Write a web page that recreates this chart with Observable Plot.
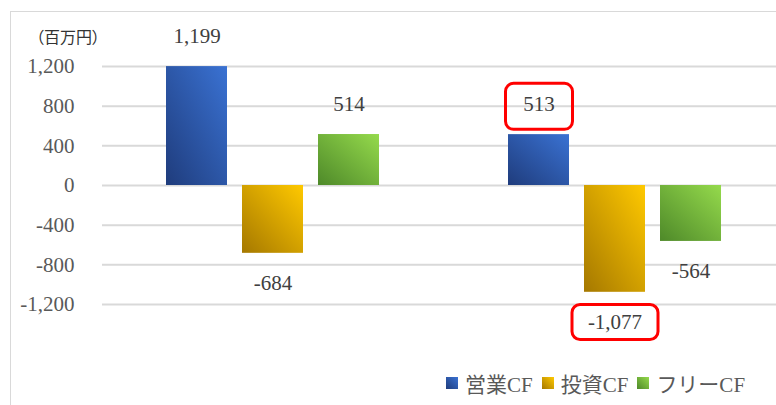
<!DOCTYPE html>
<html><head><meta charset="utf-8">
<script src="https://cdn.jsdelivr.net/npm/d3@7"></script>
<script src="https://cdn.jsdelivr.net/npm/@observablehq/plot@0.6"></script>
<style>
html,body{margin:0;padding:0;background:#fff;overflow:hidden;width:776px;height:405px}
#wrap{position:relative;width:776px;height:405px;overflow:hidden}
#frame{position:absolute;left:10px;top:11px;width:820px;height:440px;border:1.5px solid #d9d9d9;box-sizing:border-box}
#chart{position:absolute;left:0;top:0;width:800px}
#chart svg{max-width:none !important}
#unit{position:absolute;left:36px;top:24px;font-family:"Noto Sans CJK JP";font-size:16px;color:#333;font-feature-settings:"palt";white-space:nowrap}
#legend{position:absolute;left:446px;top:368px;display:flex;align-items:center;font-family:"Liberation Serif","Noto Sans CJK JP";font-size:21px;color:#595959;white-space:nowrap}
#legend .sw{width:12px;height:12px;margin-right:7px}
#legend .it{display:flex;align-items:center;margin-right:9px}
</style></head>
<body>
<div id="wrap">
  <div id="frame"></div>
  <div id="chart"></div>
  <div id="unit">（百万円）</div>
  <div id="legend"></div>
</div>
<script>
// ---- data ----
const groups = ["前期", "当期"];
const seriesNames = ["営業CF", "投資CF", "フリーCF"];
const prevValues = [1199, -684, 514];
const currValues = [513, -1077, -564];
const yTicks = [-1200, -800, -400, 0, 400, 800, 1200];
const highlighted = [513, -1077];

// ---- styles ----
const gradIds = ["g-op", "g-inv", "g-free"];
const gradStops = [["#1f3c7c", "#3a72d3"], ["#a57800", "#ffc900"], ["#4e8929", "#95da4c"]];
const boxSizes = [[67, 46], [86, 35]];
const fmt = v => v.toLocaleString("en-US");

const rows = [];
[prevValues, currValues].forEach((vals, gi) =>
  vals.forEach((v, si) => rows.push({group: groups[gi], series: seriesNames[si], value: v, si})));

const chart = Plot.plot({
  width: 786, height: 345,
  marginLeft: 101, marginRight: 0, marginTop: 66, marginBottom: 41,
  style: {fontFamily: "'Liberation Serif', serif", fontSize: "21px", color: "#595959", background: "transparent", overflow: "visible", maxWidth: "none"},
  facet: {data: rows, x: "group"},
  fx: {domain: groups, padding: 0, axis: null, label: null},
  x: {domain: seriesNames, paddingInner: 0.197, paddingOuter: 0.848, axis: null, label: null},
  y: {domain: [-1200, 1200], ticks: yTicks, tickFormat: fmt, tickSize: 0, tickPadding: 28, label: null},
  color: {type: "identity"},
  marks: [
    Plot.gridY(yTicks, {stroke: "#d9d9d9", strokeOpacity: 1, strokeWidth: 2}),
    Plot.barY(rows, {x: "series", y: "value", fill: d => `url(#${gradIds[d.si]})`}),
    Plot.text(rows, {filter: d => d.value >= 0, x: "series", y: "value", text: d => fmt(d.value), dy: -30, fill: "#404040", fontSize: 21}),
    Plot.text(rows, {filter: d => d.value < 0, x: "series", y: "value", text: d => fmt(d.value), dy: 30, fill: "#404040", fontSize: 21})
  ]
});

const svg = d3.select(chart);
svg.style("max-width", "none");
const defs = svg.insert("defs", ":first-child");
gradIds.forEach((id, i) => {
  const g = defs.append("linearGradient").attr("id", id)
    .attr("x1", 0).attr("y1", 1).attr("x2", 1).attr("y2", 0);
  g.append("stop").attr("offset", "0%").attr("stop-color", gradStops[i][0]);
  g.append("stop").attr("offset", "100%").attr("stop-color", gradStops[i][1]);
});

document.getElementById("chart").appendChild(chart);

// highlight boxes around selected labels
const svgRect = chart.getBoundingClientRect();
highlighted.forEach((v, i) => {
  const label = fmt(v);
  svg.selectAll("text").filter(function() { return this.textContent === label; }).each(function() {
    const r = this.getBoundingClientRect();
    const cx = r.left + r.width / 2 - svgRect.left;
    const cy = r.top + r.height / 2 - svgRect.top;
    const [w, h] = boxSizes[i];
    svg.append("rect")
      .attr("x", cx - w / 2).attr("y", cy - h / 2 + (i === 0 ? 2 : 0))
      .attr("width", w).attr("height", h).attr("rx", 8)
      .attr("fill", "none").attr("stroke", "#ff0000").attr("stroke-width", 3);
  });
});

// legend
const legend = d3.select("#legend");
seriesNames.forEach((s, i) => {
  const it = legend.append("div").attr("class", "it");
  it.append("div").attr("class", "sw")
    .style("background", `linear-gradient(45deg, ${gradStops[i][0]}, ${gradStops[i][1]})`);
  it.append("span").text(s);
});
</script>
</body></html>
